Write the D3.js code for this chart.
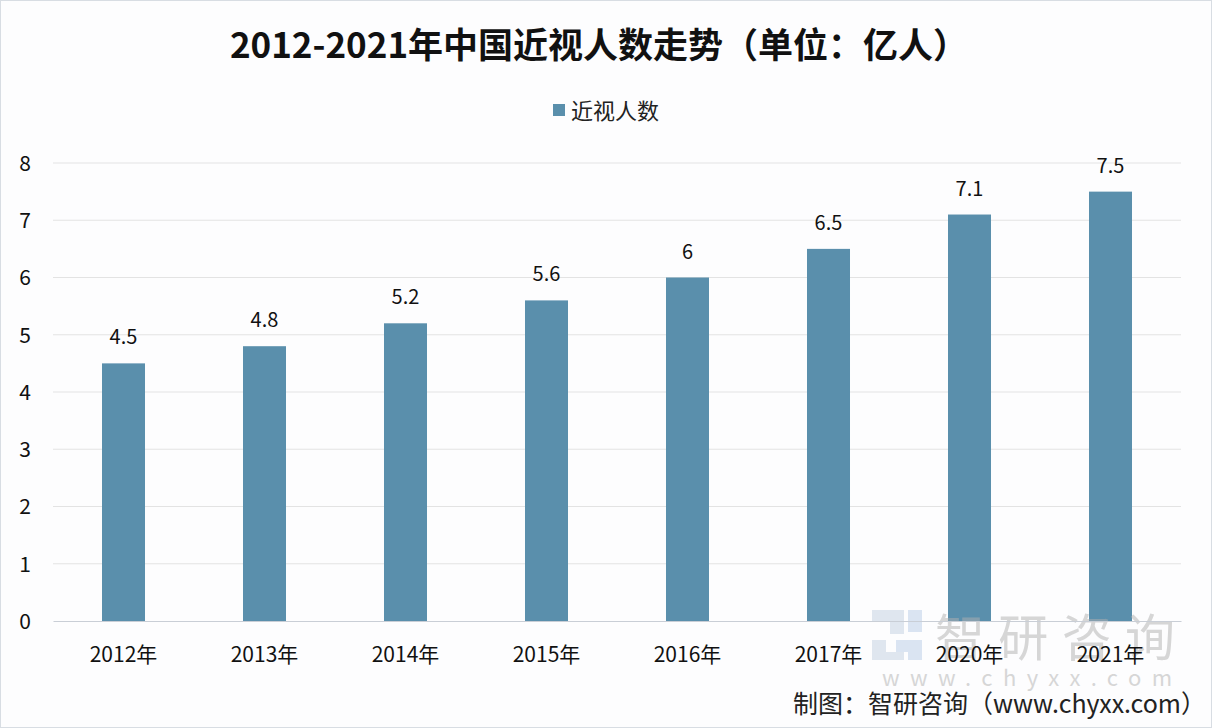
<!DOCTYPE html>
<html><head><meta charset="utf-8">
<script src="https://cdn.jsdelivr.net/npm/d3@7/dist/d3.min.js"></script>
<style>
html,body{margin:0;padding:0;background:#fff;}
svg{display:block;}
</style></head>
<body>
<svg id="chart" width="1212" height="728"></svg>
<script>
const categories = ["2012年","2013年","2014年","2015年","2016年","2017年","2020年","2021年"];
const values = [4.5, 4.8, 5.2, 5.6, 6, 6.5, 7.1, 7.5];
const yTicks = [0,1,2,3,4,5,6,7,8];
const seriesName = "近视人数";
const title = "2012-2021年中国近视人数走势（单位：亿人）";
const credit = "制图：智研咨询（www.chyxx.com）";

const svg = d3.select("#chart");
const W = 1212, H = 728;
const font = "'Noto Sans CJK SC','Noto Sans',sans-serif";
const barColor = "#5a8fac";

svg.append("rect").attr("x",0.5).attr("y",0.5).attr("width",W-1).attr("height",H-1)
  .attr("fill","#fdfdfe").attr("stroke","#d8dde3");

const m = {left:53, right:1181, top:163, bottom:621};
const x = d3.scaleBand().domain(categories).range([m.left, m.right]).paddingInner(0.695).paddingOuter(0.3475);
const y = d3.scaleLinear().domain([0,8]).range([m.bottom, m.top]);

// gridlines
svg.append("g").selectAll("line").data(yTicks.filter(d=>d>0)).join("line")
  .attr("x1", m.left).attr("x2", m.right)
  .attr("y1", d=>y(d)).attr("y2", d=>y(d))
  .attr("stroke","#e3e3e3").attr("stroke-width",1.2);

// y axis labels
const yAxis = d3.axisLeft(y).tickValues(yTicks).tickSize(0).tickPadding(0).tickFormat(d3.format("d"));
const gy = svg.append("g").attr("transform","translate(31,0)").call(yAxis);
gy.select(".domain").remove();
gy.selectAll("text").attr("font-family",font).attr("font-size",21).attr("fill","#111")
  .attr("text-anchor","end").attr("dy","0.35em");

// bars
svg.append("g").selectAll("rect").data(values).join("rect")
  .attr("x",(d,i)=>x(categories[i])).attr("width",x.bandwidth())
  .attr("y",d=>y(d)).attr("height",d=>y(0)-y(d))
  .attr("fill",barColor);

// watermark
const wm = svg.append("g").attr("opacity",0.5);
wm.append("path").attr("d","M872 610 h32 v24 h-14 v-12 h-18 z M872 640 h14 v12 h18 v8 h-32 z").attr("fill","#c2d0e2");
wm.append("path").attr("d","M908 610 h14 v22 h-14 z M896 640 h26 v20 h-14 v-8 h-12 z").attr("fill","#b9cde8");
wm.append("text").attr("x",935).attr("y",656).attr("font-family",font).attr("font-size",50)
  .attr("fill","#b0b0b0").attr("textLength",240).text("智研咨询");
wm.append("text").attr("x",882).attr("y",686).attr("font-family",font).attr("font-size",22)
  .attr("fill","#b0b0b0").attr("textLength",290).attr("lengthAdjust","spacing").text("www.chyxx.com");

// x axis
const xAxis = d3.axisBottom(x).tickSize(0).tickPadding(0);
const gx = svg.append("g").attr("transform",`translate(0,${m.bottom})`).call(xAxis);
gx.select(".domain").attr("stroke","#c9ced6").attr("stroke-width",1.2);
gx.selectAll("text").attr("font-family",font).attr("font-size",21).attr("fill","#111").attr("dy","1.95em");

// data labels
svg.append("g").selectAll("text").data(values).join("text")
  .attr("x",(d,i)=>x(categories[i])+x.bandwidth()/2).attr("y",d=>y(d)-19)
  .attr("text-anchor","middle").attr("font-family",font).attr("font-size",20).attr("fill","#111")
  .text(d=>d);

// title
svg.append("text").attr("x",599).attr("y",58).attr("text-anchor","middle")
  .attr("font-family",font).attr("font-weight","bold").attr("font-size",35).attr("fill","#111")
  .text(title);

// legend
svg.append("rect").attr("x",553).attr("y",104).attr("width",12).attr("height",12).attr("fill",barColor);
svg.append("text").attr("x",571).attr("y",119).attr("font-family",font).attr("font-size",22).attr("fill","#222")
  .text(seriesName);

// credit
svg.append("text").attr("x",1206).attr("y",713).attr("text-anchor","end").attr("font-family",font)
  .attr("font-size",25).attr("fill","#222").text(credit);
</script>
</body></html>
